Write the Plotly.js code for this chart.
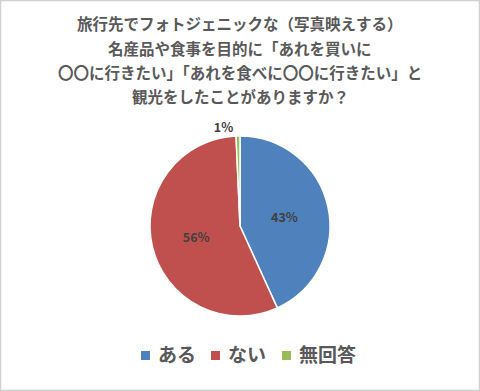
<!DOCTYPE html>
<html><head><meta charset="utf-8">
<script src="https://cdn.plot.ly/plotly-3.0.1.min.js"></script>
<style>html,body{margin:0;padding:0;background:#fff}#c{width:480px;height:391px}</style>
</head><body><div id="c"></div>
<script>
const titleLines = [
  "旅行先でフォトジェニックな（写真映えする）",
  "名産品や食事を目的に「あれを買いに",
  "〇〇に行きたい」「あれを食べに〇〇に行きたい」と",
  "観光をしたことがありますか？"
];
const categories = ["ある", "ない", "無回答"];
const values = [43.2, 56.1, 0.7];
const labelsText = ["43%", "56%", "1%"];
const colors = ["#4f81bd", "#c0504d", "#9bbb59"];

const font = "'Noto Sans CJK JP', 'Noto Sans', sans-serif";
const W = 480, H = 391;
const trace = {
  type: "pie",
  labels: categories,
  values: values,
  text: labelsText,
  textinfo: "text",
  textposition: ["inside", "inside", "outside"],
  insidetextorientation: "horizontal",
  sort: false,
  direction: "clockwise",
  rotation: 0,
  marker: {colors: colors, line: {color: "#ffffff", width: 1.5}},
  textfont: {family: font, size: 12.5, color: "#404040", weight: "bold"},
  outsidetextfont: {family: font, size: 12.5, color: "#404040", weight: "bold"},
  domain: {x: [150/W, 330/W], y: [75/H, 255/H]},
  hoverinfo: "label+percent"
};
const annotations = titleLines.map((t, i) => ({
  text: "<b>" + t + "</b>",
  xref: "paper", yref: "paper",
  x: 0.5, y: 1 - (23 + i * 24.5) / H,
  xanchor: "center", yanchor: "middle",
  showarrow: false,
  font: {family: font, size: 15.5, color: "#595959"}
}));
// custom legend (compact, like the original)
const legendMarkerX = [141, 211, 282];
const shapes = [{type: "rect", xref: "paper", yref: "paper", x0: 0.001, y0: 0.001, x1: 0.999, y1: 0.999,
    line: {color: "#d0d0d0", width: 1.5}}];
categories.forEach((c, i) => {
  const x0 = legendMarkerX[i];
  shapes.push({type: "rect", xref: "paper", yref: "paper",
    x0: x0 / W, x1: (x0 + 9) / W, y0: 1 - 360 / H, y1: 1 - 351 / H,
    fillcolor: colors[i], line: {width: 0}});
  annotations.push({text: "<b>" + c + "</b>", xref: "paper", yref: "paper",
    x: (x0 + 15) / W, y: 1 - 353 / H, xanchor: "left", yanchor: "middle",
    showarrow: false, font: {family: font, size: 19, color: "#595959"}});
});
const layout = {
  width: W, height: H,
  margin: {l: 0, r: 0, t: 0, b: 0},
  paper_bgcolor: "#ffffff",
  showlegend: false,
  annotations: annotations,
  shapes: shapes
};
Plotly.newPlot("c", [trace], layout, {displayModeBar: false, staticPlot: true});
</script></body></html>
